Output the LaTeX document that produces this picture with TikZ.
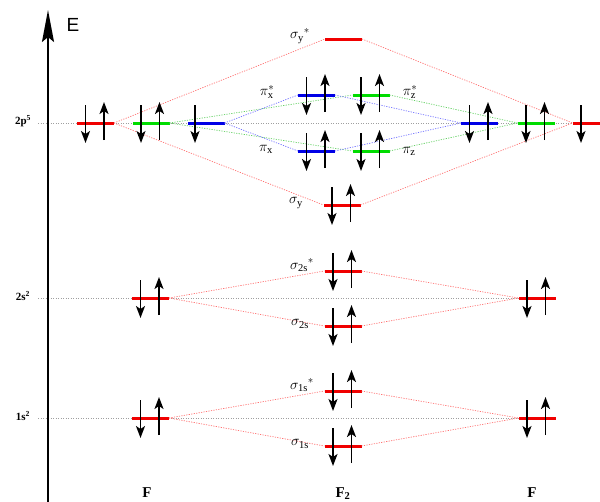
\documentclass[tikz,border=0pt]{standalone}
\usepackage{fontspec}
\setmainfont{Liberation Serif}
\setsansfont{Liberation Sans}
\usetikzlibrary{arrows.meta}
\pgfdeclarelayer{background}
\pgfsetlayers{background,main}
\definecolor{lred}{RGB}{240,0,0}
\definecolor{lblue}{RGB}{0,0,230}
\definecolor{lgreen}{RGB}{0,220,0}
\newcommand{\edn}[2]{\draw[elec] ([shift={(#2,-18)}]#1.center) -- ([shift={(#2,20)}]#1.center);}
\newcommand{\eup}[2]{\draw[elec] ([shift={(#2,17)}]#1.center) -- ([shift={(#2,-21)}]#1.center);}
\newcommand{\epair}[1]{\edn{#1}{-10}\eup{#1}{8.5}}
\begin{document}
\begin{tikzpicture}[x=1pt,y=-1pt,
  lvl/.style={minimum width=37pt, minimum height=3pt, inner sep=0pt, outer sep=0pt, fill=#1, draw=none},
  elec/.style={line width=1.8pt, -{Stealth[length=12pt,width=9pt,inset=3pt]}},
  conn/.style={#1, line width=0.7pt, dash pattern=on 1.2pt off 1.3pt},
  refline/.style={gray!75, line width=0.8pt, dash pattern=on 1.2pt off 1.3pt},
  molbl/.style={font=\fontsize{15}{15}\selectfont, inner sep=0pt},
  conf/.style={font=\fontsize{11}{11}\selectfont\bfseries, inner sep=0pt},
  atom/.style={font=\fontsize{15}{15}\selectfont\bfseries, inner sep=0pt}
]
\useasboundingbox (0,0) rectangle (600,501);
\clip (0,0) rectangle (600,501);

% energy axis
\coordinate (axb) at (48,510);
\coordinate (axt) at (48,10);
\draw[line width=2.2pt, -{Stealth[length=32pt,width=12pt,inset=5pt]}] (axb) -- (axt);
\node[font=\sffamily\fontsize{19}{19}\selectfont, inner sep=0pt] (E) at (73,25) {E};

% configuration labels
\node[conf] (c2p) at (23,121) {2p\textsuperscript{5}};
\node[conf] (c2s) at (23,296) {2s\textsuperscript{2}};
\node[conf] (c1s) at (23,416) {1s\textsuperscript{2}};

% atomic levels, left F
\node[lvl=lred]   (Lr)  at (95.5,123) {};
\node[lvl=lgreen] (Lg)  at (151,123) {};
\node[lvl=lblue]  (Lb)  at (206,123) {};
\node[lvl=lred]   (L2s) at (150.5,298) {};
\node[lvl=lred]   (L1s) at (150.5,418) {};
% atomic levels, right F
\node[lvl=lblue]  (Rb)  at (479.5,123) {};
\node[lvl=lgreen] (Rg)  at (536,123) {};
\node[lvl=lred]   (Rr)  at (591,123) {};
\node[lvl=lred]   (R2s) at (537,298) {};
\node[lvl=lred]   (R1s) at (537,418) {};

% molecular levels
\node[lvl=lred]   (sys) at (343.5,39) {};
\node[lvl=lblue]  (pxs) at (316.5,95) {};
\node[lvl=lgreen] (pzs) at (371,95) {};
\node[lvl=lblue]  (px)  at (316.5,151) {};
\node[lvl=lgreen] (pz)  at (371,151) {};
\node[lvl=lred]   (sy)  at (342,205) {};
\node[lvl=lred]   (s2s) at (343,271) {};
\node[lvl=lred]   (s2)  at (343,326) {};
\node[lvl=lred]   (s1s) at (343,391) {};
\node[lvl=lred]   (s1)  at (343,446) {};

% reference lines
\coordinate (g2p) at (38,123);
\coordinate (g2pR) at (600,123);
\coordinate (g2s) at (38,298);
\coordinate (g1s) at (38,418);
\begin{pgfonlayer}{background}
\draw[refline] (g2p) -- (g2pR);
\draw[refline] (g2s) -- (R2s.west);
\draw[refline] (g1s) -- (R1s.west);
\end{pgfonlayer}

% correlation lines
\draw[conn=red!55] (Lr.east) -- (sys.west);
\draw[conn=red!55] (Lr.east) -- (sy.west);
\draw[conn=red!55] (sys.east) -- (Rr.west);
\draw[conn=red!55] (sy.east) -- (Rr.west);
\draw[conn=green!70!black!60] (Lg.east) -- (pzs.west);
\draw[conn=green!70!black!60] (Lg.east) -- (pz.west);
\draw[conn=green!70!black!60] (pzs.east) -- (Rg.west);
\draw[conn=green!70!black!60] (pz.east) -- (Rg.west);
\draw[conn=blue!55] (Lb.east) -- (pxs.west);
\draw[conn=blue!55] (Lb.east) -- (px.west);
\draw[conn=blue!55] (pxs.east) -- (Rb.west);
\draw[conn=blue!55] (px.east) -- (Rb.west);
\draw[conn=red!55] (L2s.east) -- (s2s.west);
\draw[conn=red!55] (L2s.east) -- (s2.west);
\draw[conn=red!55] (s2s.east) -- (R2s.west);
\draw[conn=red!55] (s2.east) -- (R2s.west);
\draw[conn=red!55] (L1s.east) -- (s1s.west);
\draw[conn=red!55] (L1s.east) -- (s1.west);
\draw[conn=red!55] (s1s.east) -- (R1s.west);
\draw[conn=red!55] (s1.east) -- (R1s.west);

% electrons
\epair{Lr}\epair{Lg}\edn{Lb}{-11}
\epair{Rb}\epair{Rg}\edn{Rr}{-10}
\epair{L2s}\epair{L1s}\epair{R2s}\epair{R1s}
\epair{pxs}\epair{pzs}\epair{px}\epair{pz}\epair{sy}
\epair{s2s}\epair{s2}\epair{s1s}\epair{s1}

% MO labels
\node[molbl] (lsys) at (300,36) {$\sigma_{\mathrm{y}}{}^{*}$};
\node[molbl] (lpxs) at (267,92) {$\pi_{\mathrm{x}}^{*}$};
\node[molbl] (lpzs) at (410,92) {$\pi_{\mathrm{z}}^{*}$};
\node[molbl] (lpx)  at (266,149) {$\pi_{\mathrm{x}}$};
\node[molbl] (lpz)  at (409,151) {$\pi_{\mathrm{z}}$};
\node[molbl] (lsy)  at (296,203) {$\sigma_{\mathrm{y}}$};
\node[molbl] (ls2s) at (302,265) {$\sigma_{\mathrm{2s}}{}^{*}$};
\node[molbl] (ls2)  at (300,324) {$\sigma_{\mathrm{2s}}$};
\node[molbl] (ls1s) at (302,385) {$\sigma_{\mathrm{1s}}{}^{*}$};
\node[molbl] (ls1)  at (300,444) {$\sigma_{\mathrm{1s}}$};

% atom labels
\node[atom, anchor=base] (aL) at (147,497) {F};
\node[atom, anchor=base] (aM) at (343,497) {F\textsubscript{2}};
\node[atom, anchor=base] (aR) at (532,497) {F};
\end{tikzpicture}
\end{document}
